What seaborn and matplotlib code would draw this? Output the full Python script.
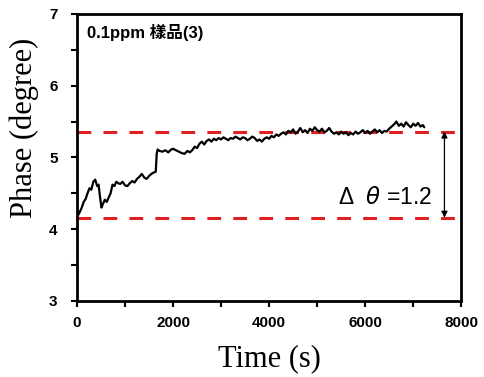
import numpy as np
import pandas as pd
import matplotlib
matplotlib.use('Agg')
import matplotlib.pyplot as plt
import seaborn as sns

# phase trace
time_s = [0, 30, 60, 100, 140, 180, 220, 260, 300, 340, 380, 420, 450, 480, 510, 540,
          580, 620, 660, 700, 740, 780, 820, 860, 900, 950, 1000, 1050, 1100, 1150,
          1200, 1250, 1300, 1350, 1400, 1450, 1500, 1550, 1600, 1640, 1660, 1680,
          1720, 1780, 1840, 1900, 1960, 2000, 2060, 2120, 2180, 2240, 2300, 2350,
          2400, 2450, 2500, 2550, 2600, 2650, 2700, 2750, 2800, 2850, 2900, 2950,
          3000, 3050, 3100, 3150, 3200, 3250, 3300, 3350, 3400, 3450, 3500, 3550,
          3600, 3650, 3700, 3750, 3800, 3850, 3900, 3950, 4000, 4050, 4100, 4150,
          4200, 4250, 4300, 4350, 4400, 4450, 4500, 4550, 4600, 4650, 4700, 4750,
          4800, 4850, 4900, 4950, 5000, 5050, 5100, 5150, 5200, 5250, 5300, 5350,
          5400, 5450, 5500, 5550, 5600, 5650, 5700, 5750, 5800, 5850, 5900, 5950,
          6000, 6050, 6100, 6150, 6200, 6250, 6300, 6350, 6400, 6450, 6500, 6550,
          6600, 6650, 6700, 6750, 6800, 6850, 6900, 6950, 7000, 7050, 7100, 7150,
          7200, 7230]
phase = [4.28, 4.20, 4.24, 4.30, 4.38, 4.42, 4.50, 4.57, 4.55, 4.66, 4.69, 4.60, 4.62,
         4.45, 4.30, 4.35, 4.41, 4.38, 4.44, 4.50, 4.62, 4.60, 4.66, 4.64, 4.63, 4.66,
         4.61, 4.60, 4.64, 4.67, 4.65, 4.70, 4.73, 4.77, 4.72, 4.70, 4.74, 4.77, 4.79,
         4.80, 5.05, 5.11, 5.09, 5.08, 5.10, 5.07, 5.11, 5.12, 5.10, 5.08, 5.06, 5.05,
         5.09, 5.07, 5.10, 5.15, 5.13, 5.19, 5.22, 5.18, 5.23, 5.25, 5.22, 5.26, 5.24,
         5.27, 5.25, 5.28, 5.26, 5.24, 5.27, 5.26, 5.29, 5.27, 5.25, 5.28, 5.27, 5.24,
         5.26, 5.29, 5.27, 5.23, 5.25, 5.22, 5.26, 5.28, 5.26, 5.30, 5.28, 5.32, 5.30,
         5.33, 5.35, 5.32, 5.37, 5.35, 5.39, 5.33, 5.36, 5.41, 5.35, 5.38, 5.34, 5.40,
         5.37, 5.42, 5.38, 5.36, 5.40, 5.35, 5.37, 5.41, 5.36, 5.33, 5.35, 5.32, 5.36,
         5.33, 5.35, 5.31, 5.34, 5.32, 5.36, 5.33, 5.35, 5.38, 5.34, 5.37, 5.33, 5.36,
         5.39, 5.35, 5.38, 5.34, 5.37, 5.36, 5.40, 5.43, 5.46, 5.50, 5.44, 5.47, 5.43,
         5.49, 5.45, 5.42, 5.47, 5.44, 5.48, 5.43, 5.45, 5.42]

upper_level = 5.36
lower_level = 4.16
delta_label = 'Δ  $\\theta$ =1.2'
sample_label = '0.1ppm 樣品(3)'

df = pd.DataFrame({'Time': time_s, 'Phase': phase})

sns.set_style('ticks')
plt.rcParams['font.family'] = ['Liberation Sans', 'Noto Sans CJK TC', 'DejaVu Sans']
# everything in plain black like the original
for key in ('text.color', 'axes.labelcolor', 'xtick.color', 'ytick.color', 'axes.edgecolor'):
    plt.rcParams[key] = 'black'

fig = plt.figure(figsize=(4.84, 3.77), dpi=100)
ax = fig.add_axes([0.159, 0.202, 0.794, 0.761])

sns.lineplot(data=df, x='Time', y='Phase', ax=ax, color='black', lw=1.6)

# reference levels
for lvl in (upper_level, lower_level):
    ax.axhline(lvl, color='#e02020', lw=2.2, ls=(0, (4.5, 4)), zorder=1)

ax.annotate('', xy=(7650, lower_level), xytext=(7650, upper_level),
            arrowprops=dict(arrowstyle='<|-|>', color='black', lw=0.9,
                            mutation_scale=9, shrinkA=0, shrinkB=0))
ax.text(7400, 4.44, delta_label, ha='right', va='center', fontsize=16.5)
ax.text(0.026, 0.934, sample_label, transform=ax.transAxes, ha='left',
        va='center', fontsize=12, fontweight='bold',
        family=['Liberation Sans', 'Noto Sans CJK TC'])

ax.set_xlim(0, 8000)
ax.set_ylim(3, 7)
ax.set_xticks([0, 2000, 4000, 6000, 8000])
ax.set_xticks([1000, 3000, 5000, 7000], minor=True)
ax.set_yticks([3, 4, 5, 6, 7])
ax.set_yticks([3.5, 4.5, 5.5, 6.5], minor=True)
ax.tick_params(which='both', direction='out', length=4, width=1.5,
               top=False, right=False)
ax.tick_params(axis='x', pad=7)
ax.tick_params(axis='y', pad=10)
for lab in ax.get_xticklabels() + ax.get_yticklabels():
    lab.set_fontweight('bold')
    lab.set_fontsize(11)
    lab.set_family(['Liberation Sans Narrow', 'Liberation Sans'])

for sp in ax.spines.values():
    sp.set_linewidth(2)
    sp.set_visible(True)

ax.set_xlabel('Time (s)', fontsize=22, family='Liberation Serif', labelpad=10)
ax.set_ylabel('Phase (degree)', fontsize=22, family='Liberation Serif')
ax.yaxis.set_label_coords(-0.1, 0.603)

fig.savefig('out.png', dpi=100, facecolor='white')
